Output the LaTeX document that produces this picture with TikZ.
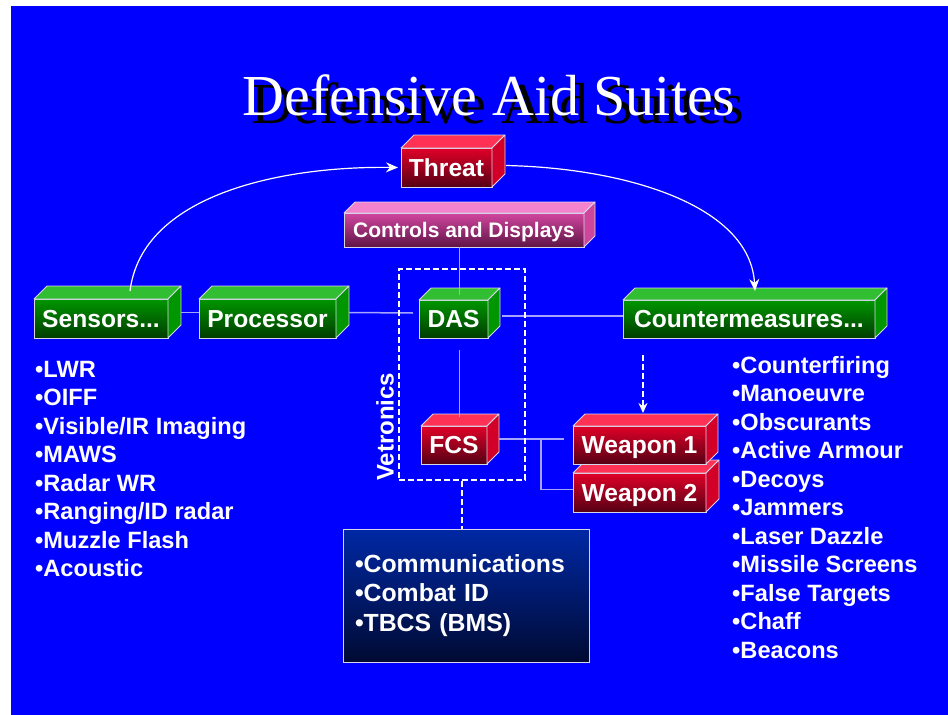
\documentclass[tikz,border=0pt]{standalone}
\usepackage{fontspec}
\setmainfont{Liberation Serif}
\setsansfont{Liberation Sans}
\usetikzlibrary{arrows.meta, positioning, calc}

\definecolor{bgblue}{RGB}{0,0,255}
\definecolor{edge}{RGB}{215,215,235}
\definecolor{linkcol}{RGB}{165,165,255}
\definecolor{gtop}{RGB}{50,190,50}
\definecolor{gside}{RGB}{0,150,0}
\definecolor{gup}{RGB}{0,150,0}
\definecolor{gdown}{RGB}{0,60,0}
\definecolor{rtop}{RGB}{255,50,85}
\definecolor{rside}{RGB}{210,0,40}
\definecolor{rup}{RGB}{225,0,40}
\definecolor{rdown}{RGB}{85,0,20}
\definecolor{ptop}{RGB}{245,130,205}
\definecolor{pside}{RGB}{205,70,155}
\definecolor{pup}{RGB}{210,70,160}
\definecolor{pdown}{RGB}{95,20,70}
\definecolor{cup}{RGB}{0,40,165}
\definecolor{cdown}{RGB}{0,10,50}

\newcommand{\cubesides}[4]{%
  \filldraw[facet, fill=#2] (#1.north west) -- ++(#4,-#4) -- ([shift={(#4,-#4)}]#1.north east) -- (#1.north east) -- cycle;
  \filldraw[facet, fill=#3] (#1.south east) -- (#1.north east) -- ([shift={(#4,-#4)}]#1.north east) -- ([shift={(#4,-#4)}]#1.south east) -- cycle;
}

\begin{document}
\begin{tikzpicture}[x=1pt, y=-1pt]
\tikzset{
  facet/.style={draw=edge, line width=0.8pt, line join=round},
  cube/.style={draw=edge, line width=0.8pt, inner sep=0pt, outer sep=0pt, text=white,
    font=\sffamily\bfseries\fontsize{24.6}{24.6}\selectfont, text height=17.5pt, text depth=0pt},
  greencube/.style={cube, top color=gup, bottom color=gdown},
  redcube/.style={cube, top color=rup, bottom color=rdown},
  pinkcube/.style={cube, top color=pup, bottom color=pdown, font=\sffamily\bfseries\fontsize{21}{21}\selectfont, text height=15pt},
  bullet/.style={anchor=base west, inner sep=0pt, text=white, font=\sffamily\bfseries\fontsize{23.6}{28}\selectfont},
  commsbox/.style={draw=edge, line width=1pt, top color=cup, bottom color=cdown, minimum width=246pt,
    minimum height=133pt, text width=222pt, align=left, inner sep=0pt, text=white,
    font=\sffamily\bfseries\fontsize{24.8}{29.5}\selectfont},
  dashbox/.style={draw=white, line width=2pt, dash pattern=on 6pt off 3pt, minimum width=126pt,
    minimum height=211pt, inner sep=0pt},
  link/.style={draw=linkcol, line width=1.5pt},
  dashline/.style={draw=white, line width=2pt, dash pattern=on 6pt off 3pt},
  arc/.style={draw=white, line width=1.2pt}
}

\fill[white] (0,0) rectangle (948,715);
\fill[bgblue] (11,6) rectangle (948,715);

\node[anchor=base, inner sep=0pt, font=\rmfamily\fontsize{58}{58}\selectfont] (titleshadow) at (498,123) {Defensive Aid Suites};
\node[anchor=base, inner sep=0pt, text=white, font=\rmfamily\fontsize{58}{58}\selectfont] (title) at (489,115) {Defensive Aid Suites};

\node[redcube, minimum width=91pt, minimum height=39pt] (threat) at (446.5,167.5) {Threat};
\cubesides{threat}{rtop}{rside}{13}
\node[pinkcube, minimum width=240pt, minimum height=34pt] (controls) at (464,230) {Controls and Displays};
\cubesides{controls}{ptop}{pside}{11}
\node[greencube, minimum width=134pt, minimum height=39pt] (sensors) at (101,318.5) {Sensors...};
\cubesides{sensors}{gtop}{gside}{13}
\node[greencube, minimum width=137pt, minimum height=39pt] (processor) at (267.5,318.5) {Processor};
\cubesides{processor}{gtop}{gside}{13}
\node[greencube, minimum width=69pt, minimum height=38pt] (das) at (453.5,319) {DAS};
\cubesides{das}{gtop}{gside}{12}
\node[greencube, minimum width=252pt, minimum height=38pt] (cm) at (749,319) {Countermeasures...};
\cubesides{cm}{gtop}{gside}{12}
\node[redcube, minimum width=66pt, minimum height=38pt] (fcs) at (454,445) {FCS};
\cubesides{fcs}{rtop}{rside}{12}
\node[redcube, minimum width=133pt, minimum height=39pt] (w2) at (639.5,492.5) {Weapon 2};
\cubesides{w2}{rtop}{rside}{13}
\node[redcube, minimum width=133pt, minimum height=38pt] (w1) at (639.5,445) {Weapon 1};
\cubesides{w1}{rtop}{rside}{12}

\node[commsbox] (comms) at (466,595.5) {\textbullet Communications\\\textbullet Combat ID\\\textbullet TBCS (BMS)};

\draw[arc, -{Stealth[length=12pt,width=10pt]}] ([xshift=29pt,yshift=8pt]sensors.north) .. controls (142,195) and (280,166) .. ([xshift=-3pt]threat.west);
\draw[arc, -{Stealth[length=12pt,width=10pt]}] ([xshift=14pt,yshift=2pt]threat.east) .. controls (625,168) and (750,205) .. ([xshift=6pt,yshift=9pt]cm.north);

\draw[link] ([xshift=13pt,yshift=6pt]sensors.east) -- ([yshift=6pt]processor.west);
\draw[link] ([xshift=13pt,yshift=6pt]processor.east) -- ([xshift=-6pt,yshift=6pt]das.west);
\draw[link] ([xshift=14pt,yshift=3pt]das.east) -- ([yshift=3pt]cm.west);
\draw[link] ([xshift=6pt,yshift=5pt]das.north) -- ([xshift=6pt]das.north |- controls.south);
\draw[link] ([xshift=6pt,yshift=-12pt]das.south) -- ([xshift=6pt,yshift=9pt]das.south |- fcs.north);
\draw[link] ([xshift=12pt,yshift=6pt]fcs.east) -- ([xshift=-9pt,yshift=6pt]fcs.east -| w1.west);
\draw[link] ([xshift=54pt,yshift=6pt]fcs.east) |- ([yshift=3pt]w2.west);

\node[dashbox] (vet) at (462,374.5) {};
\node[rotate=90, anchor=south west, inner sep=0pt, text=white, font=\sffamily\bfseries\fontsize{24}{24}\selectfont] (vetlabel) at ([xshift=-4pt]vet.south west) {Vetronics};
\draw[dashline] (vet.south) -- (vet.south |- comms.north);
\draw[dashline, -{Stealth[length=10pt,width=9pt]}] ([xshift=20pt,yshift=-17pt]cm.south west) -- ([xshift=20pt,yshift=13pt]cm.south west |- w1.north);

\foreach \txt [count=\i] in {LWR, OIFF, Visible/IR Imaging, MAWS, Radar WR, Ranging/ID radar, Muzzle Flash, Acoustic}
  \node[bullet] (sens\i) at (35,{377+28.5*(\i-1)}) {\textbullet\txt};
\foreach \txt [count=\i] in {Counterfiring, Manoeuvre, Obscurants, Active Armour, Decoys, Jammers, Laser Dazzle, Missile Screens, False Targets, Chaff, Beacons}
  \node[bullet] (cmeas\i) at (732,{373+28.5*(\i-1)}) {\textbullet\txt};
\end{tikzpicture}
\end{document}
